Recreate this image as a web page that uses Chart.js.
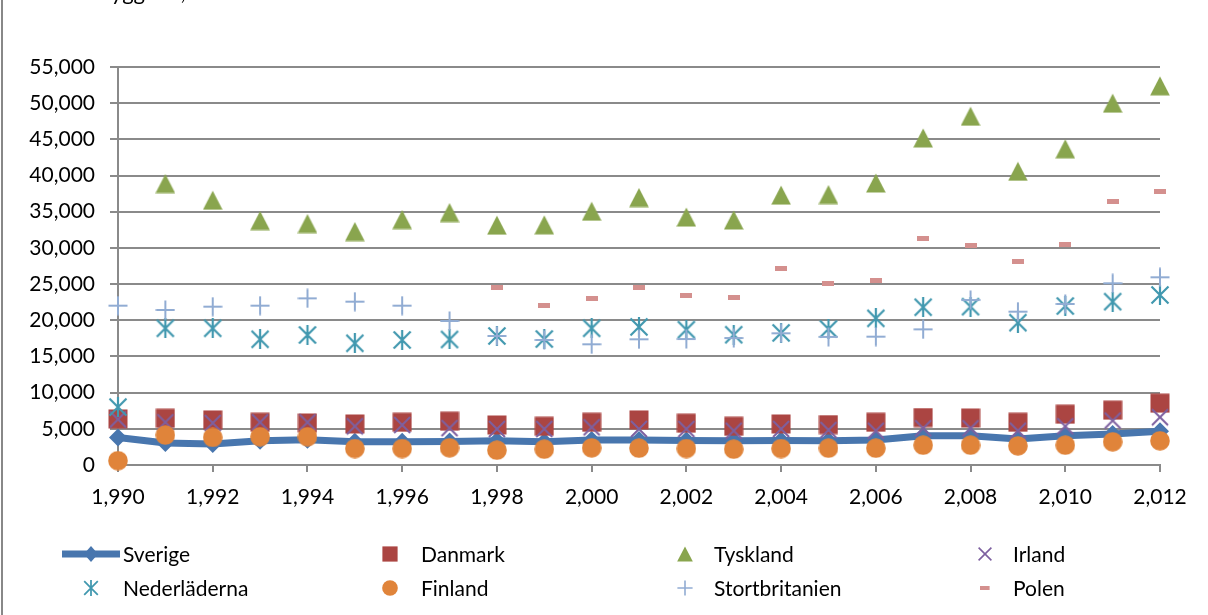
<!DOCTYPE html>
<html>
<head>
<meta charset="utf-8">
<script src="https://cdn.jsdelivr.net/npm/chart.js@4.4.1/dist/chart.umd.min.js"></script>
<style>
  html, body { margin: 0; padding: 0; background: #ffffff; }
  #wrap { position: relative; width: 1208px; height: 615px; }
</style>
</head>
<body>
<div id="wrap"><canvas id="chart" width="1208" height="615"></canvas></div>
<script>
// Years on the x axis
const years = [1990, 1991, 1992, 1993, 1994, 1995, 1996, 1997, 1998, 1999, 2000, 2001,
               2002, 2003, 2004, 2005, 2006, 2007, 2008, 2009, 2010, 2011, 2012];

// Series values per country (null = no value that year)
const sverige = [3800, 3050, 2900, 3350, 3500, 3200, 3200, 3250, 3350, 3200, 3450, 3450,
                 3400, 3350, 3400, 3350, 3450, 4050, 4050, 3600, 4050, 4300, 4650];
const danmark = [6370, 6460, 6230, 5900, 5810, 5670, 5900, 6050, 5530, 5350, 5900, 6230,
                 5770, 5350, 5670, 5580, 5900, 6560, 6490, 5900, 7020, 7580, 8550];
const tyskland = [null, 38900, 36590, 33780, 33370, 32260, 33920, 34890, 33140, 33190, 35070, 36960,
                  34270, 33860, 37300, 37380, 38970, 45200, 48200, 40590, 43700, 50000, 52400];
const irland = [6300, 5900, 5810, 5900, 5900, 5350, 5530, 5100, 4980, 4980, 5210, 4980,
                4980, 4740, 4980, 4840, 4740, 5070, 5070, 4740, 5350, 6140, 6600];
const nederlanderna = [8000, 18890, 18890, 17370, 17970, 16820, 17280, 17350, 17830, 17410, 18890, 19080,
                       18700, 18000, 18250, 18800, 20270, 21800, 21880, 19670, 21970, 22570, 23500];
const finland = [600, 4140, 3810, 3910, 3910, 2280, 2280, 2380, 2050, 2190, 2370, 2330,
                 2280, 2190, 2280, 2330, 2330, 2740, 2740, 2650, 2740, 3210, 3350];
const stortbritanien = [22020, 21420, 21880, 22020, 23030, 22570, 22020, 19900, 17830, 17280, 16680, 17370,
                        17410, 17550, 18200, 17700, 17740, 18750, 22800, 21190, 22250, 25110, 25940];
const polen = [null, null, null, null, null, null, null, null, 24500, 22110, 22940, 24560,
               23400, 23080, 27180, 25150, 25430, 31300, 30270, 28100, 30500, 36350, 37830];

// Tick settings
const yMin = 0, yMax = 55000, yStep = 5000;
const xMin = 1990, xMax = 2012, xStep = 2;

const FONT = 'Lato';
const GRID = '#8a8a8a';

// Small canvases used as point markers
function marker(kind, color, scale) {
  const k = scale || 1;
  const c = document.createElement('canvas');
  let w = 20, h = 20;
  if (kind === 'dash') { w = 12; h = 5; }
  c.width = Math.round(w * k); c.height = Math.round(h * k);
  const g = c.getContext('2d');
  g.scale(k, k);
  g.fillStyle = color; g.strokeStyle = color; g.lineCap = 'butt';
  if (kind === 'square') {
    g.fillRect(0.5, 0.5, 19, 19);
  } else if (kind === 'triangle') {
    g.beginPath(); g.moveTo(10, 0.5); g.lineTo(19.8, 19.5); g.lineTo(0.2, 19.5); g.closePath(); g.fill();
  } else if (kind === 'circle') {
    g.beginPath(); g.arc(10, 10, 9.8, 0, Math.PI * 2); g.fill();
  } else if (kind === 'x') {
    g.lineWidth = 2;
    g.beginPath(); g.moveTo(2, 2); g.lineTo(18, 18); g.moveTo(18, 2); g.lineTo(2, 18); g.stroke();
  } else if (kind === 'star') {
    g.lineWidth = 2.2;
    g.beginPath(); g.moveTo(1.5, 1.5); g.lineTo(18.5, 18.5); g.moveTo(18.5, 1.5); g.lineTo(1.5, 18.5);
    g.moveTo(10, 0); g.lineTo(10, 20); g.stroke();
  } else if (kind === 'plus') {
    g.lineWidth = 2;
    g.beginPath(); g.moveTo(10, 0.5); g.lineTo(10, 19.5); g.moveTo(0.5, 10); g.lineTo(19.5, 10); g.stroke();
  } else if (kind === 'dash') {
    g.fillRect(0, 0, 12, 5);
  }
  return c;
}

const series = [
  { label: 'Sverige', data: sverige, color: '#4876ae', kind: 'line' },
  { label: 'Danmark', data: danmark, color: '#ab4542', kind: 'square' },
  { label: 'Tyskland', data: tyskland, color: '#89a54e', kind: 'triangle' },
  { label: 'Irland', data: irland, color: '#7d60a0', kind: 'x' },
  { label: 'Nederläderna', data: nederlanderna, color: '#4198af', kind: 'star' },
  { label: 'Finland', data: finland, color: '#e0843a', kind: 'circle' },
  { label: 'Stortbritanien', data: stortbritanien, color: '#91acd3', kind: 'plus' },
  { label: 'Polen', data: polen, color: '#d4908e', kind: 'dash' }
];

function buildDatasets() {
  return series.map((s, i) => {
    const pts = years.map((yr, j) => ({ x: yr, y: s.data[j] }));
    const base = { label: s.label, data: pts, order: series.length - i, clip: false };
    if (s.kind === 'line') {
      return Object.assign(base, {
        showLine: true, borderColor: s.color, borderWidth: 7, borderJoinStyle: 'round',
        backgroundColor: s.color, pointStyle: 'rectRot', pointRadius: 9,
        pointBackgroundColor: s.color, pointBorderColor: s.color, pointBorderWidth: 0
      });
    }
    return Object.assign(base, {
      showLine: false, pointStyle: marker(s.kind, s.color), pointRadius: 10,
      backgroundColor: s.color, borderColor: s.color
    });
  });
}

// Frame line on the left and the clipped heading line at the top
const framePlugin = {
  id: 'frame',
  beforeDraw(chart) {
    const ctx = chart.ctx;
    ctx.save();
    ctx.fillStyle = '#ffffff';
    ctx.fillRect(0, 0, chart.width, chart.height);
    ctx.strokeStyle = '#888888';
    ctx.lineWidth = 2;
    ctx.beginPath(); ctx.moveTo(2, 0); ctx.lineTo(2, chart.height); ctx.stroke();
    ctx.fillStyle = '#000000';
    ctx.font = '22px ' + FONT;
    ctx.textBaseline = 'alphabetic';
    ctx.fillText('byggnad,', 99, 0);
    ctx.restore();
  }
};

// Four-column legend below the plot
const legendPlugin = {
  id: 'gridLegend',
  afterDraw(chart) {
    const ctx = chart.ctx;
    const markX = [91, 390, 685, 985];
    const textX = [123, 421, 714, 1013];
    const rowY = [554, 588];
    ctx.save();
    ctx.font = '21px ' + FONT;
    ctx.textBaseline = 'middle';
    series.forEach((s, i) => {
      const col = i % 4, row = Math.floor(i / 4);
      const mx = markX[col], my = rowY[row];
      if (s.kind === 'line') {
        ctx.strokeStyle = s.color; ctx.lineWidth = 7;
        ctx.beginPath(); ctx.moveTo(62, my); ctx.lineTo(120, my); ctx.stroke();
        ctx.fillStyle = s.color;
        ctx.beginPath(); ctx.moveTo(mx, my - 8); ctx.lineTo(mx + 7, my); ctx.lineTo(mx, my + 8); ctx.lineTo(mx - 7, my); ctx.closePath(); ctx.fill();
      } else {
        const m = marker(s.kind, s.color, 0.8);
        ctx.drawImage(m, Math.round(mx - m.width / 2), Math.round(my - m.height / 2));
      }
      ctx.fillStyle = '#000000';
      ctx.fillText(s.label, textX[col], my + 1);
    });
    ctx.restore();
  }
};

function draw() {
  new Chart(document.getElementById('chart'), {
    type: 'scatter',
    data: { datasets: buildDatasets() },
    options: {
      responsive: false,
      animation: false,
      devicePixelRatio: 1,
      layout: { padding: { top: 67, right: 48, left: 0, bottom: 0 } },
      plugins: { legend: { display: false }, tooltip: { enabled: false }, title: { display: false } },
      scales: {
        x: {
          type: 'linear', min: xMin, max: xMax,
          afterFit(scale) { scale.height = 150; },
          ticks: { stepSize: xStep, color: '#000000', font: { family: FONT, size: 21 }, padding: 13, maxRotation: 0 },
          grid: { drawOnChartArea: false, drawTicks: true, tickLength: 7, color: GRID, lineWidth: 2 },
          border: { display: true, color: GRID, width: 2 }
        },
        y: {
          min: yMin, max: yMax,
          afterFit(scale) { scale.width = 118; },
          ticks: { stepSize: yStep, color: '#000000', font: { family: FONT, size: 21 }, padding: 15 },
          grid: { color: GRID, lineWidth: 2, tickLength: 8, drawTicks: true },
          border: { display: true, color: GRID, width: 2 }
        }
      }
    },
    plugins: [framePlugin, legendPlugin]
  });
}

if (document.fonts && document.fonts.load) {
  document.fonts.load('21px ' + FONT).then(draw, draw);
} else {
  draw();
}
</script>
</body>
</html>
